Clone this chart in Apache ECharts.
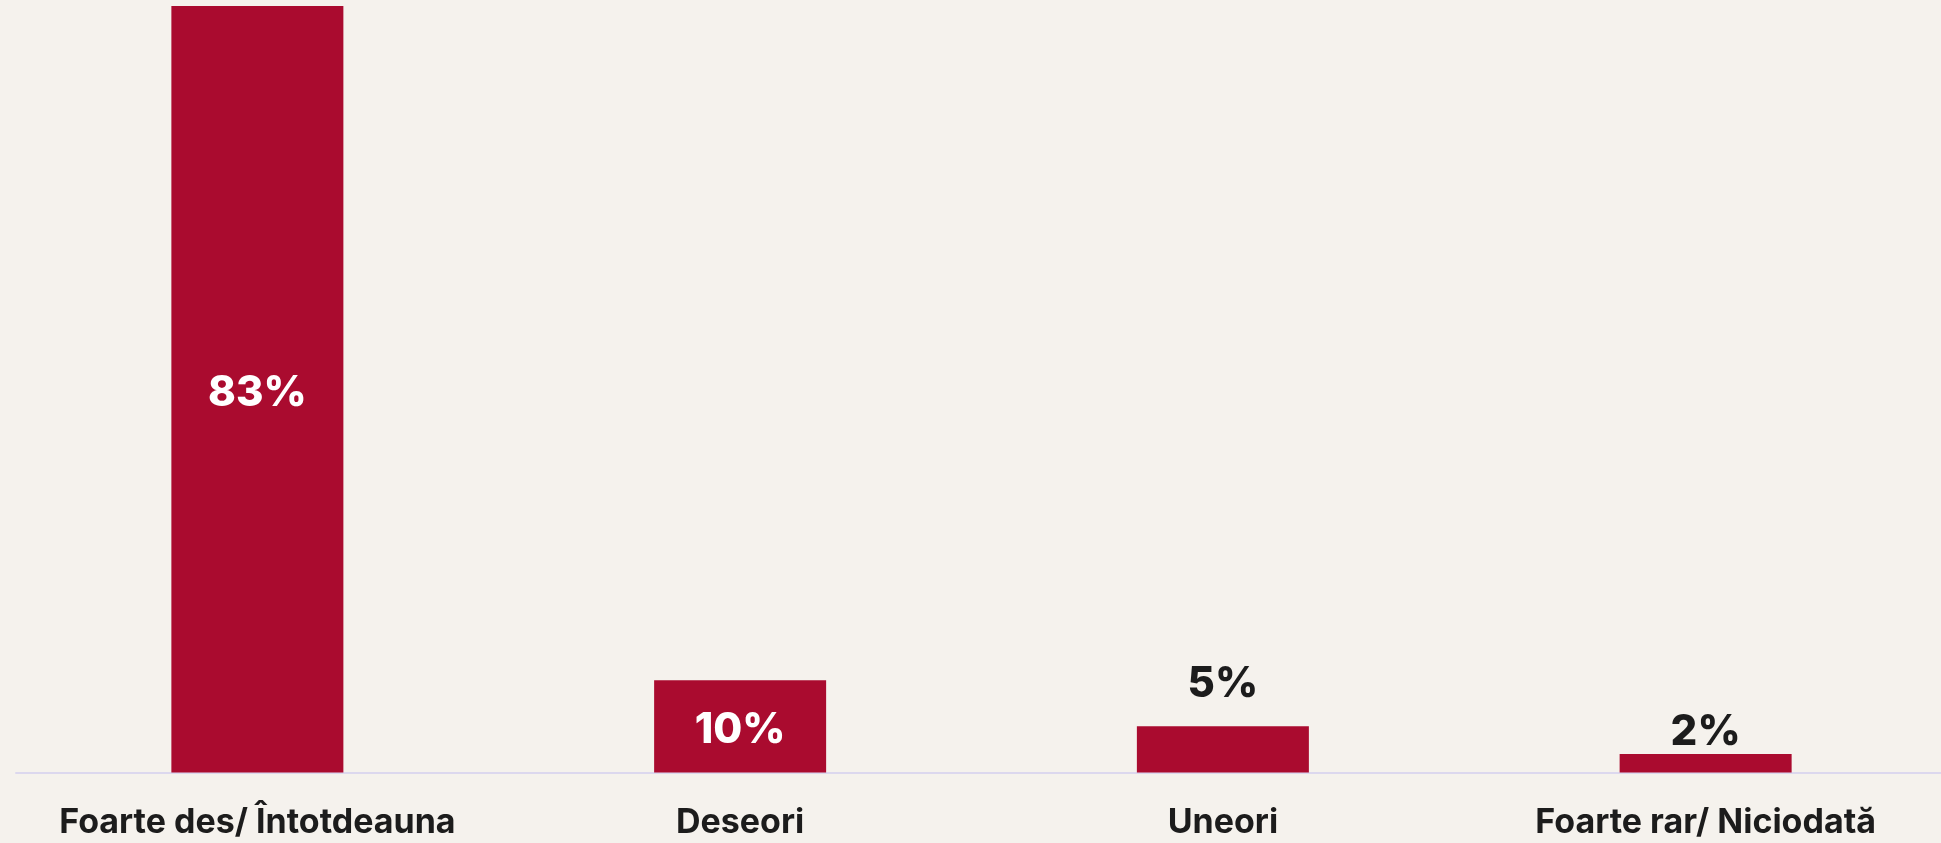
<!DOCTYPE html>
<html>
<head>
<meta charset="utf-8">
<script src="https://cdn.jsdelivr.net/npm/echarts@6/dist/echarts.min.js"></script>
<style>
html,body{margin:0;padding:0;background:#f5f2ed;overflow:hidden;}
#c{width:1948px;height:843px;}
</style>
</head>
<body>
<div id="c"></div>
<script>
const categories = ['Foarte des/ Întotdeauna', 'Deseori', 'Uneori', 'Foarte rar/ Niciodată'];
const values = [83, 10, 5, 2];
const labelInside = [true, true, false, false];
const labelDistance = [0, 0, 25, 5];

const FONT = 'Inter';
const chart = echarts.init(document.getElementById('c'));
chart.setOption({
  backgroundColor: '#f5f2ed',
  animation: false,
  grid: { left: 16, top: 6, right: 1, height: 766.5, containLabel: false },
  xAxis: {
    type: 'category',
    data: categories,
    axisLine: { show: true, lineStyle: { color: '#dcd8ee', width: 2 } },
    axisTick: { show: false },
    axisLabel: { color: '#1c1c1c', fontFamily: FONT, fontWeight: 700, fontSize: 34, margin: 33, interval: 0 }
  },
  yAxis: {
    type: 'value', min: 0, max: 83, show: false,
    splitLine: { show: false }
  },
  series: [{
    type: 'bar',
    barWidth: 172,
    itemStyle: { color: '#aa0b2f' },
    data: values.map((v, i) => ({
      value: v,
      label: {
        show: true,
        position: labelInside[i] ? 'inside' : 'top',
        distance: labelDistance[i],
        offset: [0, 4],
        color: labelInside[i] ? '#ffffff' : '#1c1c1c',
        fontFamily: FONT, fontWeight: 800, fontSize: 42,
        formatter: '{c}%'
      }
    }))
  }]
});
</script>
</body>
</html>
